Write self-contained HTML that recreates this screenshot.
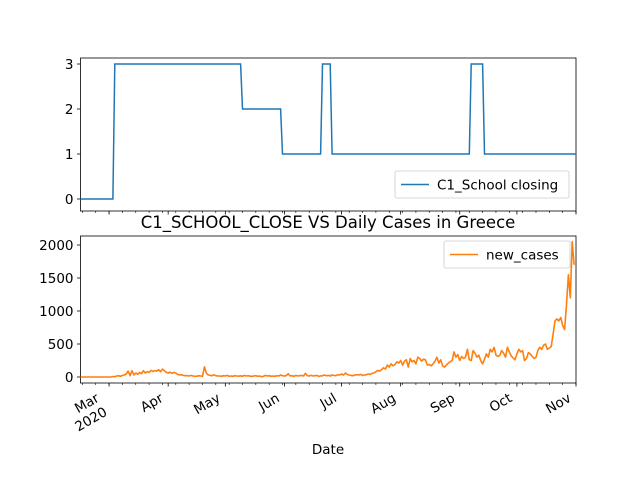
<!DOCTYPE html>
<html><head><meta charset="utf-8"><style>
body{margin:0;background:#fff;}
svg{font-family:"DejaVu Sans","Liberation Sans",sans-serif;}
</style></head><body>
<svg id="c" width="640" height="480" xmlns="http://www.w3.org/2000/svg"></svg>
<script>
const monthLabels=["Mar","Apr","May","Jun","Jul","Aug","Sep","Oct","Nov"];
const monthDays=[15,46,76,107,137,168,199,229,260];
const schoolDays=[0,17,18,84,85,105,106,126,127,131,132,204,205,211,212,260];
const schoolVals=[0,0,3,3,2,2,1,1,3,3,1,1,3,3,1,1];
const schoolTicks=[0,1,2,3];
const caseTicks=[0,500,1000,1500,2000];
const newCases=[0,0,0,0,0,0,0,0,0,0,0,0,0,0,0,0,0,
8,5,15,20,10,25,30,
45,90,20,95,30,60,40,
70,50,95,60,80,70,100,
85,95,90,110,80,120,95,
70,60,75,55,70,60,40,
30,35,25,20,20,15,25,
15,12,10,20,15,10,155,
60,30,25,20,35,20,15,
15,10,20,15,25,10,15,
10,20,15,12,18,10,25,
15,20,12,10,15,20,10,
15,5,10,25,15,20,10,
15,10,20,15,30,20,15,
20,50,15,20,10,25,15,
20,25,15,55,20,15,25,
15,20,25,10,15,20,30,
20,25,15,30,25,20,35,
30,45,30,60,40,30,25,
20,30,35,30,40,25,30,
35,45,40,55,60,80,100,
90,110,140,120,180,150,200,
170,190,230,210,250,180,240,
260,150,280,230,250,200,300,
280,240,270,260,180,190,170,
200,240,300,210,260,170,150,
180,210,230,250,380,300,340,
250,310,280,300,420,260,250,
400,360,300,330,250,200,270,
350,300,420,380,450,330,310,
330,400,360,300,450,380,320,
290,260,350,420,380,400,
250,280,370,350,310,280,300,
400,450,420,480,500,420,440,
460,650,850,880,850,900,780,
720,1100,1550,1200,2050,1700];

const svg=document.getElementById('c');
const NS="http://www.w3.org/2000/svg";
function mk(t,a,p){const e=document.createElementNS(NS,t);for(const k in a)e.setAttribute(k,a[k]);(p||svg).appendChild(e);return e;}
const X0=80.5,X1=576,DMAX=260;
const xs=d=>X0+d*(X1-X0)/DMAX;
const ysTop=v=>199-v*45;
const ysBot=v=>377-v*(132/2000);

function axes(top,bot,name){
 const r=mk('rect',{x:X0,y:top,width:X1-X0,height:bot-top,fill:'none',stroke:'#000','stroke-width':0.8});
 
 
 for(let d=1;d<=DMAX;d+=7){
  const l=mk('line',{x1:xs(d),x2:xs(d),y1:bot,y2:bot+2,stroke:'#000','stroke-width':0.6});
  
  
 }
 monthDays.forEach(d=>{
  const l=mk('line',{x1:xs(d),x2:xs(d),y1:bot,y2:bot+3.5,stroke:'#000','stroke-width':0.8});
  
  
 });
}
axes(58,211,'top-axes');
axes(236,383,'bottom-axes');

schoolTicks.forEach(v=>{
 const y=ysTop(v);
 mk('line',{x1:X0-3.5,x2:X0,y1:y,y2:y,stroke:'#000','stroke-width':0.8});
 const t=mk('text',{x:X0-7,y:y+5,'font-size':13.5,'text-anchor':'end'});t.textContent=v;
 
 
});
caseTicks.forEach(v=>{
 const y=ysBot(v);
 mk('line',{x1:X0-3.5,x2:X0,y1:y,y2:y,stroke:'#000','stroke-width':0.8});
 const t=mk('text',{x:X0-7,y:y+5,'font-size':13.5,'text-anchor':'end'});t.textContent=v;
 
 
});
monthDays.forEach((d,i)=>{
 const x=xs(d)-(i===0?14:9);
 const g=mk('g',{transform:`translate(${x},${392}) rotate(-30)`});
 const t=mk('text',{x:0,y:10,'font-size':13.5,'text-anchor':'end'},g);t.textContent=monthLabels[i];
 
 
 if(i===0){const t2=mk('text',{x:0,y:26,'font-size':13.5,'text-anchor':'end'},g);t2.textContent='2020';
  
  }
});
let pts=schoolDays.map((d,i)=>xs(d).toFixed(1)+','+ysTop(schoolVals[i]).toFixed(1)).join(' ');
const sl=mk('polyline',{points:pts,fill:'none',stroke:'#1f77b4','stroke-width':1.5});


pts=newCases.map((v,d)=>xs(d).toFixed(1)+','+ysBot(v).toFixed(1)).join(' ');
const cl=mk('polyline',{points:pts,fill:'none',stroke:'#ff7f0e','stroke-width':1.6,'stroke-linejoin':'round'});


function legend(x,y,w,color,label,name){
 const g=mk('g',{});
 
 
 mk('rect',{x:x,y:y,width:w,height:27,rx:2,fill:'#fff','fill-opacity':0.8,stroke:'#ccc','stroke-width':0.8},g);
 mk('line',{x1:x+6,x2:x+34,y1:y+13.5,y2:y+13.5,stroke:color,'stroke-width':1.5},g);
 const t=mk('text',{x:x+42,y:y+18.5,'font-size':13.5},g);t.textContent=label;
}
legend(395,171,174,'#1f77b4','C1_School closing','legend-school-closing');
legend(444,241,126,'#ff7f0e','new_cases','legend-new-cases');
const ti=mk('text',{x:328,y:228,'font-size':16.5,'text-anchor':'middle'});ti.textContent='C1_SCHOOL_CLOSE VS Daily Cases in Greece';


const xl=mk('text',{x:328,y:454,'font-size':13.5,'text-anchor':'middle'});xl.textContent='Date';


</script>
</body></html>
